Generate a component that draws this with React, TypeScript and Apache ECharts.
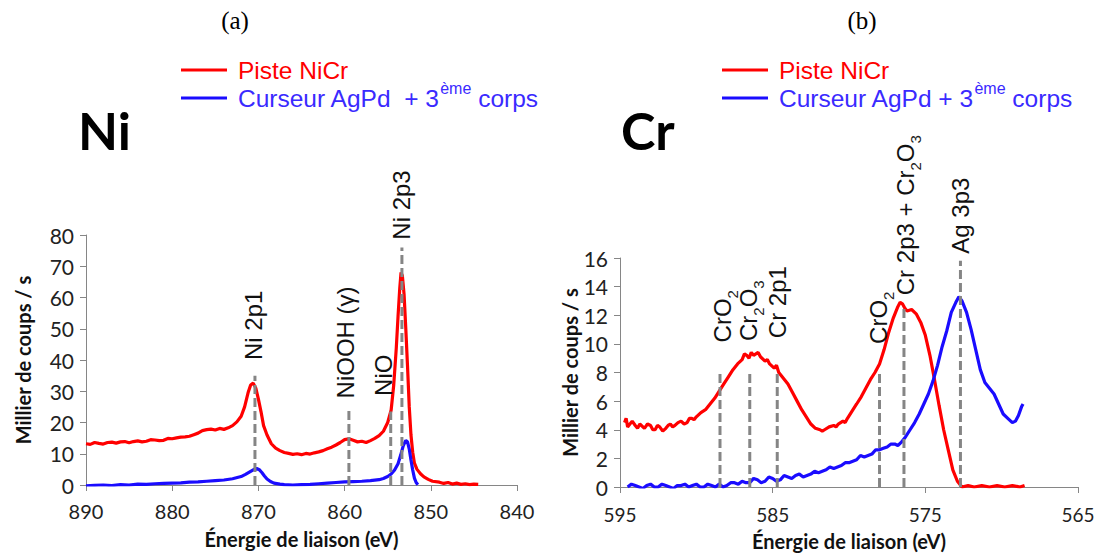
import React, { useEffect, useRef } from "react";
import * as echarts from "echarts";

// ---------- Data ----------
const niRed: [number, number][] = [
  [890, 13.2], [889.5, 13.0], [889, 13.6], [888.5, 13.3], [888, 13.1], [887.5, 13.6], [887, 13.7], [886.5, 13.4],
  [886, 13.8], [885.5, 13.9], [885, 13.5], [884.5, 13.9], [884, 14.1], [883.5, 13.8], [883, 14.0], [882.5, 14.5],
  [882, 14.4], [881.5, 14.2], [881, 14.3], [880.5, 14.9], [880, 14.8], [879.5, 15.1], [879, 15.3], [878.5, 15.4],
  [878, 15.6], [877.5, 16.1], [877, 16.6], [876.5, 17.4], [876, 17.7],
  [875.5, 17.9], [875, 17.6], [874.5, 18.1], [874, 17.8], [873.5, 18.3], [873, 19.0], [872.5, 20.2], [872, 22.0],
  [871.6, 25.0], [871.2, 29.5], [870.9, 32.0], [870.6, 32.6], [870.3, 31.0], [870, 27.5], [869.7, 23.5], [869.4, 19.0],
  [869, 16.0], [868.5, 13.2], [868, 11.8], [867.5, 11.0], [867, 10.4], [866.5, 10.1], [866, 9.8], [865.5, 10.0],
  [865, 9.7], [864.5, 10.1], [864, 9.9], [863.5, 10.3], [863, 10.6], [862.5, 11.0], [862, 11.6], [861.5, 12.1],
  [861, 12.8], [860.5, 13.6], [860, 14.5], [859.5, 14.8], [859, 14.3], [858.5, 13.8], [858, 14.0], [857.5, 13.6],
  [857, 14.2], [856.5, 14.9], [856, 15.8], [855.5, 17.2], [855, 20.0], [854.6, 24.0], [854.3, 32.0], [854, 44.0],
  [853.8, 54.0], [853.6, 63.0], [853.45, 68.0], [853.3, 67.0], [853.1, 61.0], [852.9, 50.0], [852.7, 38.0],
  [852.5, 25.0], [852.3, 16.0], [852.1, 10.5], [851.9, 7.0], [851.6, 5.0], [851.2, 3.6], [850.8, 2.6], [850.3, 1.8],
  [849.8, 1.2], [849, 0.9], [848.5, 0.5], [848, 0.8], [847.5, 0.3], [847, 0.6], [846.5, 0.2], [846, 0.4],
  [845.5, 0.1], [845, 0.3], [844.5, 0.2],
];
const niBlue: [number, number][] = [
  [890, -0.3], [889, -0.1], [888, 0.0], [887, -0.2], [886, 0.1], [885, 0.0], [884, 0.3], [883, 0.2], [882, 0.4],
  [881, 0.5], [880, 0.6], [879, 0.7], [878, 0.9], [877, 1.0], [876, 1.2], [875, 1.4], [874, 1.6], [873, 2.0],
  [872, 2.7], [871.5, 3.4], [871, 4.2], [870.5, 5.0], [870.2, 5.3], [869.9, 4.9], [869.6, 4.0], [869.3, 2.9],
  [869, 1.9], [868.6, 1.1], [868.2, 0.6], [867.5, 0.3], [867, 0.1], [866, 0.0], [865, 0.1], [864, 0.2], [863, 0.4],
  [862, 0.6], [861, 0.8], [860, 1.0], [859, 1.1], [858, 1.2], [857, 1.4], [856, 1.7], [855.5, 2.1], [855, 2.7],
  [854.6, 3.5], [854.2, 4.8], [853.8, 6.8], [853.5, 9.5], [853.2, 12.5], [852.9, 14.3], [852.7, 13.8], [852.5, 11.5],
  [852.3, 8.0], [852.1, 4.8], [851.9, 2.2], [851.7, 0.8], [851.5, 0.1],
];
const crRed: [number, number][] = [
  [594.7, 4.5], [594.6, 4.8], [594.5, 4.2], [594.35, 4.4], [594.2, 4.6], [594, 4.3], [593.85, 4.1], [593.7, 4.4],
  [593.4, 4.1], [593.2, 4.4], [593, 4.3], [592.85, 4.0], [592.7, 4.0], [592.55, 4.3], [592.4, 4.2], [592.2, 3.9],
  [592, 4.1], [591.85, 4.3], [591.7, 4.4], [591.55, 4.2], [591.4, 4.3], [591.2, 4.5], [591, 4.6], [590.8, 4.4],
  [590.6, 4.5], [590.45, 4.8], [590.3, 4.8], [590.15, 4.7], [590, 4.9],
  [589.7, 5.2], [589.4, 5.4], [589.1, 5.8], [588.8, 6.2], [588.5, 6.7], [588.2, 7.2], [587.9, 7.7], [587.6, 8.2],
  [587.3, 8.6], [587, 8.9], [586.85, 9.3], [586.7, 9.2], [586.55, 9.0], [586.4, 9.4], [586.25, 9.2], [586.1, 9.3],
  [585.95, 9.4], [585.8, 9.1], [585.5, 8.8], [585.35, 8.9], [585.2, 8.6],
  [584.9, 8.3], [584.75, 8.5], [584.6, 8.0], [584.3, 7.6], [584, 7.2], [583.7, 6.6], [583.4, 6.0], [583.1, 5.4],
  [582.8, 4.9], [582.5, 4.4], [582.2, 4.1], [581.9, 4.0], [581.75, 3.9], [581.6, 4.0], [581.3, 4.2], [581, 4.3],
  [580.85, 4.2], [580.7, 4.4], [580.4, 4.6], [580.25, 4.5],
  [580.1, 4.8], [579.8, 5.3], [579.5, 5.8], [579.2, 6.3], [578.9, 6.9], [578.6, 7.5], [578.3, 8.0], [578, 8.6],
  [577.7, 9.6], [577.4, 10.8], [577.1, 11.8], [576.8, 12.6], [576.65, 12.9], [576.5, 12.8], [576.35, 12.5],
  [576.2, 12.3], [575.9, 12.4],
  [575.6, 12.1], [575.3, 11.5], [575, 10.6], [574.7, 9.2], [574.4, 7.5], [574.1, 5.7], [573.8, 4.0], [573.5, 2.6],
  [573.2, 1.2], [572.9, 0.4], [572.6, 0.0], [572.2, 0.1], [571.8, 0.0], [571.3, 0.1], [570.8, 0.0], [570.3, 0.1],
  [569.8, 0.0], [569.3, 0.1], [568.8, 0.0], [568.5, 0.1],
];
const crBlue: [number, number][] = [
  [594.5, 0.0], [594.25, 0.2], [594, 0.1], [593.75, 0.0], [593.5, -0.1], [593.25, 0.1], [593, 0.2], [592.75, 0.0],
  [592.5, 0.0], [592.25, 0.2], [592, 0.1], [591.75, 0.0], [591.5, -0.1], [591.25, 0.1], [591, 0.1], [590.75, 0.2],
  [590.5, 0.0], [590.25, 0.1], [590, 0.2], [589.75, 0.0], [589.5, 0.0], [589.25, 0.2], [589, 0.1], [588.75, 0.0],
  [588.5, 0.2], [588.25, 0.0], [588, 0.1], [587.75, 0.3], [587.5, 0.3], [587.25, 0.2], [587, 0.4], [586.75, 0.3],
  [586.5, 0.3], [586.25, 0.6], [586, 0.5], [585.75, 0.3], [585.5, 0.4], [585.25, 0.7], [585, 0.6], [584.75, 0.4],
  [584.5, 0.5], [584.25, 0.8], [584, 0.7], [583.75, 0.6], [583.5, 0.8], [583.25, 0.9], [583, 0.7], [582.75, 0.8],
  [582.5, 0.9], [582.25, 1.1], [582, 1.0], [581.75, 1.1], [581.5, 1.2], [581.25, 1.4], [581, 1.3], [580.75, 1.4],
  [580.5, 1.5], [580.25, 1.7], [580, 1.7], [579.75, 1.8], [579.5, 1.9], [579.25, 2.2], [579, 2.1], [578.75, 2.2],
  [578.5, 2.3], [578.25, 2.6], [578, 2.6], [577.75, 2.7], [577.5, 2.8], [577.25, 3.0], [577, 3.0], [576.8, 2.9],
  [576.6, 3.1], [576.3, 3.5], [576, 4.0], [575.7, 4.5],
  [575.4, 5.1], [575.1, 5.8], [574.8, 6.5], [574.5, 7.4], [574.2, 8.5], [573.9, 9.8], [573.6, 10.9], [573.3, 12.2],
  [573, 12.9], [572.8, 13.3], [572.6, 13.0], [572.3, 12.2], [572, 11.0], [571.7, 9.6], [571.4, 8.2], [571.1, 7.3],
  [570.8, 6.9], [570.5, 6.5], [570.2, 5.8], [569.9, 5.1], [569.6, 4.8], [569.3, 4.5], [569.1, 4.6], [568.9, 5.0],
  [568.7, 5.6], [568.6, 5.8],
];

// Reference lines (position, top value) and their labels
const niMarkX = [870.4, 859.5, 854.65, 853.35];
const niMarkTop = [35, 24, 23.5, 76];
const niLabels = ["Ni 2p1", "NiOOH (γ)", "NiO", "Ni 2p3"];
const niLabelX = [870.6, 859.9, 855.5, 853.4];
const niLabelY = [40, 27.7, 28.5, 78.5];

const crMarkX = [588.45, 586.5, 584.7, 578.0, 576.4, 572.7];
const crMarkTop = [8.1, 8.1, 8.1, 8.1, 12.6, 15.8];
const crLabels = ["CrO{s|2}", "Cr{s|2}O{s|3}", "Cr 2p1", "CrO{s|2}", "Cr 2p3 + Cr{s|2}O{s|3}", "Ag 3p3"];
const crLabelX = [588.3, 586.6, 584.7, 578.1, 576.3, 572.7];
const crLabelY = [10.1, 10.2, 10.4, 10.0, 13.4, 16.3];

const redName = "Piste NiCr";
const blueNameNi = "Curseur AgPd  + 3ème corps";
const blueNameCr = "Curseur AgPd + 3ème corps";

const RED = "#ff0000";
const BLUE = "#1a0cff";
const DASH = "#858585";
const AXIS = "#868686";
const TICKFONT = "Lato, 'Open Sans', sans-serif";
const ARIAL = "'Liberation Sans', Arial, sans-serif";

export default function App() {
  const ref = useRef<HTMLDivElement>(null);
  useEffect(() => {
    if (!ref.current) return;
    const chart = echarts.init(ref.current, undefined, { renderer: "svg" });

    const xAxisBase = (min: number, max: number, interval: number, gridIndex: number, fs: number, margin: number) => ({
      type: "value" as const,
      gridIndex,
      min,
      max,
      interval,
      inverse: true,
      name: "Énergie de liaison (eV)",
      nameLocation: "middle" as const,
      nameGap: 44,
      nameTextStyle: { fontFamily: TICKFONT, fontWeight: "bold" as const, fontSize: 20, color: "#111" },
      axisLine: { show: true, onZero: false, lineStyle: { color: AXIS, width: 1 } },
      axisTick: { show: true, inside: false, length: 6, lineStyle: { color: AXIS } },
      axisLabel: { fontFamily: TICKFONT, fontSize: fs, color: "#222", margin },
      splitLine: { show: false },
    });
    const yAxisBase = (max: number, interval: number, gridIndex: number, nameGap: number) => ({
      type: "value" as const,
      gridIndex,
      min: 0,
      max,
      interval,
      name: "Millier de coups / s",
      nameLocation: "middle" as const,
      nameGap,
      nameRotate: 90,
      nameTextStyle: { fontFamily: TICKFONT, fontWeight: "bold" as const, fontSize: 20, color: "#111" },
      axisLine: { show: true, lineStyle: { color: AXIS, width: 1 } },
      axisTick: { show: true, length: 6, lineStyle: { color: AXIS } },
      axisLabel: { fontFamily: TICKFONT, fontSize: 21, color: "#222", margin: 12 },
      splitLine: { show: false },
    });

    const curve = (name: string, data: [number, number][], color: string, idx: number) => ({
      type: "line" as const,
      name,
      xAxisIndex: idx,
      yAxisIndex: idx,
      data,
      symbol: "none",
      smooth: false,
      lineStyle: { color, width: 3.2 },
      itemStyle: { color },
      z: 2,
    });
    const dashSeries = (xs: number[], tops: number[], idx: number) =>
      xs.map((x, i) => ({
        type: "line" as const,
        xAxisIndex: idx,
        yAxisIndex: idx,
        data: [
          [x, 0],
          [x, tops[i]],
        ],
        symbol: "none",
        silent: true,
        lineStyle: { color: DASH, width: 3, type: [9, 4] as any },
        z: 4,
      }));

    chart.setOption({
      animation: false,
      grid: [
        { left: 86, right: 584, top: 235, bottom: 69 },
        { left: 620, right: 23, top: 258, bottom: 67 },
      ],
      xAxis: [xAxisBase(840, 890, 10, 0, 20, 16), xAxisBase(565, 595, 10, 1, 19, 18)],
      yAxis: [yAxisBase(80, 10, 0, 53), yAxisBase(16, 2, 1, 36)],
      series: [
        curve(redName, niRed, RED, 0),
        curve(blueNameNi, niBlue, BLUE, 0),
        curve(redName, crRed, RED, 1),
        curve(blueNameCr, crBlue, BLUE, 1),
        ...dashSeries(niMarkX, niMarkTop, 0),
        ...dashSeries(crMarkX, crMarkTop, 1),
      ],
    });

    const annFont = 24;
    const rich = {
      s: { fontSize: 15, fontFamily: ARIAL, lineHeight: 36, verticalAlign: "bottom", fill: "#222" },
    };
    const label = (text: string, p: number[]) => ({
      type: "text",
      x: p[0],
      y: p[1],
      rotation: Math.PI / 2,
      style: {
        text,
        fontFamily: ARIAL,
        fontSize: annFont,
        fill: "#111",
        align: "left",
        verticalAlign: "middle",
        rich,
      },
      z: 10,
    });
    const niAnn = niLabels.map((t, i) =>
      label(t, chart.convertToPixel({ gridIndex: 0 }, [niLabelX[i], niLabelY[i]]) as number[])
    );
    const crAnn = crLabels.map((t, i) =>
      label(t, chart.convertToPixel({ gridIndex: 1 }, [crLabelX[i], crLabelY[i]]) as number[])
    );

    const legRich = {
      sup: { fontSize: 16, fontFamily: ARIAL, lineHeight: 36, verticalAlign: "top", fill: "#3a2aff" },
    };
    const legend = (x0: number, blueText: string) => [
      { type: "line", shape: { x1: x0, y1: 70, x2: x0 + 46, y2: 70 }, style: { stroke: RED, lineWidth: 3 } },
      {
        type: "text",
        x: x0 + 57,
        y: 70,
        style: { text: redName, fontFamily: ARIAL, fontSize: 24.5, fill: RED, verticalAlign: "middle" },
      },
      { type: "line", shape: { x1: x0, y1: 98, x2: x0 + 46, y2: 98 }, style: { stroke: BLUE, lineWidth: 3 } },
      {
        type: "text",
        x: x0 + 57,
        y: 98,
        style: { text: blueText, fontFamily: ARIAL, fontSize: 24.5, fill: "#3a2aff", verticalAlign: "middle", rich: legRich },
      },
    ];

    chart.setOption({
      graphic: [
        {
          type: "text",
          x: 235,
          y: 20,
          style: { text: "(a)", fontFamily: "'Liberation Serif', serif", fontSize: 25, fill: "#000", align: "center", verticalAlign: "middle" },
        },
        {
          type: "text",
          x: 862,
          y: 20,
          style: { text: "(b)", fontFamily: "'Liberation Serif', serif", fontSize: 25, fill: "#000", align: "center", verticalAlign: "middle" },
        },
        {
          type: "text",
          x: 78,
          y: 130,
          style: { text: "Ni", fontFamily: TICKFONT, fontWeight: "bold", fontSize: 52, fill: "#000", verticalAlign: "middle" },
        },
        {
          type: "text",
          x: 621,
          y: 130,
          style: { text: "Cr", fontFamily: TICKFONT, fontWeight: "bold", fontSize: 52, fill: "#000", verticalAlign: "middle" },
        },
        ...legend(181, "Curseur AgPd  + 3{sup|ème} corps"),
        ...legend(722, "Curseur AgPd + 3{sup|ème} corps"),
        ...niAnn,
        ...crAnn,
      ],
    });

    return () => chart.dispose();
  }, []);

  return (
    <div
      ref={ref}
      style={{ position: "fixed", left: 0, top: 0, width: 1101, height: 554, background: "#fff" }}
    />
  );
}
